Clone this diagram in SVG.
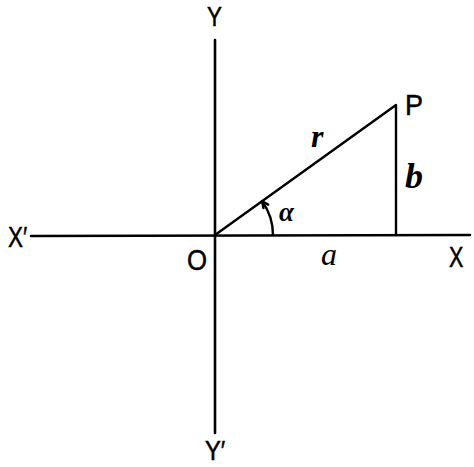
<svg xmlns="http://www.w3.org/2000/svg" width="474" height="467" viewBox="0 0 474 467">
<style>
.ax{stroke:#000;stroke-width:2.6;fill:none;stroke-linecap:round}
.ln{stroke:#000;stroke-width:2.4;fill:none;stroke-linecap:round;stroke-linejoin:round}
.lab{font-family:"Liberation Sans",Arial,sans-serif;font-size:30px;fill:#000;stroke:#000;stroke-width:0.5}
.var{font-family:"Liberation Serif","Times New Roman",serif;font-style:italic;fill:#000}
</style>
<rect width="474" height="467" fill="#fff"/>
<g id="connectors">
<path class="ax" d="M31,236 L470,235"/>
<path class="ax" d="M215,40 L215,433"/>
<path class="ln" d="M215,235 L396,105 L396,235"/>
<path class="ln" d="M273,235 A58,58 0 0 0 262.1,201.2"/>
<path class="ln" d="M263.4,208.1 L262.1,201.2 L268.2,204.6"/>
</g>
<g id="Y"><text class="lab" font-size="28" style="font-size:28px" transform="translate(207,26) scale(0.8,1)">Y</text></g>
<g id="Yp"><text class="lab" style="font-size:28px" transform="translate(205,460) scale(0.85,1)">Y′</text></g>
<g id="X"><text class="lab" transform="translate(449,267) scale(0.72,1)">X</text></g>
<g id="Xp"><text class="lab" transform="translate(8,247) scale(0.75,1)">X′</text></g>
<g id="O"><text class="lab" transform="translate(187,270) scale(0.86,1)">O</text></g>
<g id="P"><text class="lab" transform="translate(405,115) scale(0.9,1)">P</text></g>
<g id="r"><text class="var" x="311" y="147" font-size="32" font-weight="bold">r</text></g>
<g id="b"><text class="var" x="405" y="188" font-size="36" font-weight="bold">b</text></g>
<g id="a"><text class="var" x="321" y="265" font-size="32">a</text></g>
<g id="alpha"><text class="var" x="279" y="221" font-size="27" font-weight="bold">α</text></g>
</svg>
